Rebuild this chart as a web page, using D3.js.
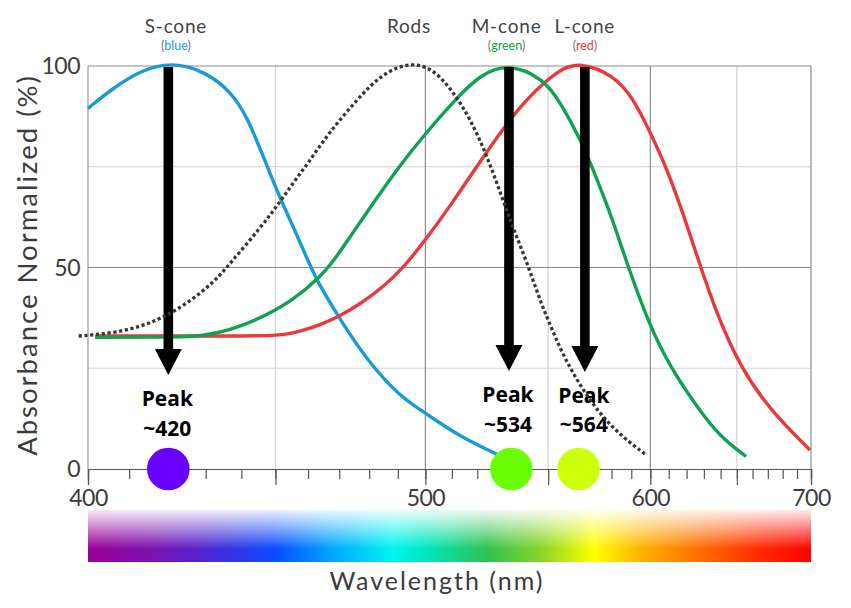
<!DOCTYPE html>
<html><head><meta charset="utf-8">
<script src="https://cdn.jsdelivr.net/npm/d3@7"></script>
<style>body{margin:0;background:#fff}svg{display:block}</style>
</head><body>
<svg id="c" width="851" height="608"></svg>
<script>
// ---------- DATA ----------
const sConeNm  = [400,406,413,421,430,437,441.5,447.4,451.4,456.5,460.6,462.7,469.7,479.2,490.8,500.2,513.2,527.9];
const sConeAbs = [89.5,94.5,99,101,98.6,93.6,87.8,75.4,67.2,58.1,50.6,46.9,37.8,27,17.9,13.8,8,3.7];

const rodNm  = [397.8,406,412.7,418.3,425,432,436.8,445.4,451.4,457.5,459.6,466.4,479.2,486.1,494.4,502.9,510.5,517.1,523.8,529.3,534.8,540.6,546.4,549.4,556.9,567.9,580.9,597.2];
const rodAbs = [33,33.7,35.3,37.4,41.1,46.1,51,59.7,66.3,73.4,75.4,83.3,94.5,98.6,100.9,99.4,93.6,87,77.9,68.7,59.7,51.4,41.9,37.8,27.9,17.9,9.7,3.7];

const mConeNm  = [401.7,415,430.3,439.6,447.4,455.4,463.8,468.1,479.2,490.8,499.8,511.9,521.1,532.7,547.9,555.4,564.7,572.7,580.9,587.6,599.8,610.7,625.8,639.6,655.8];
const mConeAbs = [32.7,32.7,32.8,35.3,38.2,41.9,47.7,51.4,63.8,75.4,83.1,92.1,97.8,100.7,96.9,91.1,82.1,72.1,61.4,51.2,35.3,25.4,15.5,8,3.1];

const lConeNm  = [401.7,430,449.4,454.4,457.5,463.8,470.2,476.9,484.9,492,499.8,510.5,521.1,530.6,540.6,555.4,564.7,580.9,591,599.8,608.9,618.1,626.7,637.6,652,671.5,699.3];
const lConeAbs = [33,33,33,33.6,34.2,35.7,38,40.9,45.2,50,56.6,66.3,76.3,84.5,92,99.4,100.9,97.8,92,83.7,74.6,63.3,51.9,38.5,25.4,14.6,4.7];

const peakNm     = [420, 534, 564];
const peakLabels = ["~420", "~534", "~564"];
const arrowNm    = [420, 533, 567];
const arrowTip   = [23.3, 24.3, 24.1];

const coneNames = ["S-cone", "Rods", "M-cone", "L-cone"];
const coneSub   = ["blue", "", "green", "red"];
const coneLabelNm = [422, 494, 532, 567];

const xMajorTicks = [400, 500, 600, 700];
const xMidTicks   = [400, 450, 500, 550, 600, 650, 700];
const xMinorTicks = d3.range(400, 701, 10);
const yTicks      = [0, 50, 100];

// ---------- STYLE ----------
const colS = "#1b9ad6", colM = "#10a152", colL = "#e8393d", colRod = "#363636";
const peakColors = ["#6a00ff", "#6bff06", "#ccff0b"];
const subColors = ["#1b9ad6", "", "#10a152", "#e8393d"];
const spectrumStops = [
  [0,"#9b0096"],[0.09,"#7a12b0"],[0.155,"#5522cc"],[0.258,"#0a4cff"],[0.334,"#00a2ff"],
  [0.422,"#00f5ee"],[0.47,"#00e6bb"],[0.552,"#2ec24f"],[0.625,"#86d42a"],[0.70,"#ffff00"],
  [0.765,"#ffb300"],[0.85,"#ff6a00"],[0.93,"#ff2a00"],[1,"#ff0000"]];
const FONT = "Lato, 'Open Sans', sans-serif";

const svg = d3.select("#c");
const L = 88, R = 811, T = 66, B = 469;

// reciprocal (wavenumber) scale
const xr = d3.scaleLinear().domain([1/400, 1/700]).range([L, R]);
const X = nm => xr(1/nm);
const y = d3.scaleLinear().domain([0, 100]).range([B, T]);

// ---------- GRID ----------
const g = svg.append("g");
[450, 550, 650].forEach(v => g.append("line").attr("x1", X(v)).attr("x2", X(v)).attr("y1", T).attr("y2", B)
  .attr("stroke", "#d2d2d2").attr("stroke-width", 1.2));
[25, 75].forEach(v => g.append("line").attr("x1", L).attr("x2", R).attr("y1", y(v)).attr("y2", y(v))
  .attr("stroke", "#d2d2d2").attr("stroke-width", 1.2));
[500, 600, 700].forEach(v => g.append("line").attr("x1", X(v)).attr("x2", X(v)).attr("y1", T).attr("y2", B)
  .attr("stroke", "#8c8c8c").attr("stroke-width", 1.2));
[50, 100].forEach(v => g.append("line").attr("x1", L).attr("x2", R).attr("y1", y(v)).attr("y2", y(v))
  .attr("stroke", "#8c8c8c").attr("stroke-width", 1.2));
g.append("line").attr("x1", L).attr("x2", L).attr("y1", T).attr("y2", B).attr("stroke", "#9a9a9a").attr("stroke-width", 1.2);

// ---------- X AXIS ----------
const axMinor = d3.axisBottom(xr).tickValues(xMinorTicks.map(d => 1/d)).tickSize(10).tickFormat("");
const axMid = d3.axisBottom(xr).tickValues(xMidTicks.map(d => 1/d)).tickSize(16).tickFormat("");
const axLab = d3.axisBottom(xr).tickValues(xMajorTicks.map(d => 1/d)).tickSize(0).tickPadding(21)
  .tickFormat(d => Math.round(1/d));
[axMinor, axMid].forEach(ax => {
  const a = svg.append("g").attr("transform", `translate(0,${B})`).call(ax);
  a.selectAll("path").attr("stroke", "#555").attr("stroke-width", 1.2);
  a.selectAll("line").attr("stroke", "#555").attr("stroke-width", 1.2);
});
const al = svg.append("g").attr("transform", `translate(0,${B})`).call(axLab);
al.select("path").remove();
al.selectAll("text").attr("font-family", FONT).attr("font-size", 23).attr("fill", "#3c3c3c")
  .attr("letter-spacing", "-0.5px");

// ---------- Y LABELS ----------
svg.append("g").selectAll("text").data(yTicks).join("text")
  .attr("x", 80).attr("y", d => y(d)).attr("dy", "0.36em").attr("text-anchor", "end")
  .attr("font-family", FONT).attr("font-size", 23).attr("fill", "#3c3c3c").attr("letter-spacing", "-0.5px")
  .text(d => d);

svg.append("text").attr("transform", "translate(37,265) rotate(-90)").attr("text-anchor", "middle")
  .attr("font-family", FONT).attr("font-size", 27.5).attr("fill", "#3c3c3c").attr("letter-spacing", "2px")
  .text("Absorbance Normalized (%)");

// ---------- SPECTRUM BAR ----------
const defs = svg.append("defs");
const hg = defs.append("linearGradient").attr("id", "spec").attr("x1", 0).attr("x2", 1).attr("y1", 0).attr("y2", 0);
spectrumStops.forEach(s => hg.append("stop").attr("offset", s[0]).attr("stop-color", s[1]));
const vg = defs.append("linearGradient").attr("id", "fade").attr("x1", 0).attr("x2", 0).attr("y1", 0).attr("y2", 1);
vg.append("stop").attr("offset", 0).attr("stop-color", "#fff").attr("stop-opacity", 0.92);
vg.append("stop").attr("offset", 0.35).attr("stop-color", "#fff").attr("stop-opacity", 0.5);
vg.append("stop").attr("offset", 0.75).attr("stop-color", "#fff").attr("stop-opacity", 0);
vg.append("stop").attr("offset", 1).attr("stop-color", "#fff").attr("stop-opacity", 0);
svg.append("rect").attr("x", X(400)).attr("y", 510).attr("width", X(700) - X(400)).attr("height", 52).attr("fill", "url(#spec)");
svg.append("rect").attr("x", X(400)).attr("y", 510).attr("width", X(700) - X(400)).attr("height", 52).attr("fill", "url(#fade)");

svg.append("text").attr("x", 437).attr("y", 590).attr("text-anchor", "middle")
  .attr("font-family", FONT).attr("font-size", 25).attr("fill", "#3c3c3c").attr("letter-spacing", "2px")
  .text("Wavelength (nm)");

// ---------- CURVES ----------
const line = d3.line().x(d => X(d[0])).y(d => y(d[1])).curve(d3.curveBasis);
const zip = (a, b) => a.map((v, i) => [v, b[i]]);
const curves = svg.append("g").attr("fill", "none");
curves.append("path").attr("d", line(zip(sConeNm, sConeAbs))).attr("stroke", colS).attr("stroke-width", 3.4);
curves.append("path").attr("d", line(zip(lConeNm, lConeAbs))).attr("stroke", colL).attr("stroke-width", 3.4);
curves.append("path").attr("d", line(zip(mConeNm, mConeAbs))).attr("stroke", colM).attr("stroke-width", 3.4);

// ---------- PEAK CIRCLES ----------
svg.append("g").selectAll("circle").data(peakNm).join("circle")
  .attr("cx", d => X(d)).attr("cy", y(0)).attr("r", 21.3).attr("fill", (d, i) => peakColors[i]);

// ---------- ARROWS ----------
const ag = svg.append("g").attr("fill", "#000");
arrowNm.forEach((nm, i) => {
  const cx = X(nm), tip = y(arrowTip[i]), headTop = tip - 26;
  ag.append("rect").attr("x", cx - 4.8).attr("y", y(100) + 1).attr("width", 9.6).attr("height", headTop - y(100));
  ag.append("path").attr("d", `M${cx - 13.5},${headTop} L${cx + 13.5},${headTop} L${cx},${tip} Z`);
});

// ---------- PEAK LABELS ----------
const pl = svg.append("g").attr("font-family", "'Open Sans', sans-serif").attr("font-weight", 700)
  .attr("font-size", 21).attr("text-anchor", "middle").attr("fill", "#000");
arrowNm.forEach((nm, i) => {
  const cx = X(nm) - 1, tip = y(arrowTip[i]);
  pl.append("text").attr("x", cx).attr("y", tip + 31).text("Peak");
  pl.append("text").attr("x", cx).attr("y", tip + 60.5).text(peakLabels[i]);
});

// ---------- RODS (dotted) ----------
svg.append("path").attr("d", line(zip(rodNm, rodAbs))).attr("fill", "none").attr("stroke", colRod)
  .attr("stroke-width", 3.3).attr("stroke-dasharray", "3.2 2.6");

// ---------- TOP LABELS ----------
const tl = svg.append("g").attr("font-family", FONT).attr("text-anchor", "middle");
coneNames.forEach((n, i) => {
  tl.append("text").attr("x", X(coneLabelNm[i])).attr("y", 32.5).attr("font-size", 19).attr("fill", "#444")
    .attr("letter-spacing", "0.8px").text(n);
  if (coneSub[i]) {
    const t = tl.append("text").attr("x", X(coneLabelNm[i])).attr("y", 49.5).attr("font-size", 12.5).attr("fill", "#777");
    t.append("tspan").text("(");
    t.append("tspan").attr("fill", subColors[i]).text(coneSub[i]);
    t.append("tspan").text(")");
  }
});
</script>
</body></html>
